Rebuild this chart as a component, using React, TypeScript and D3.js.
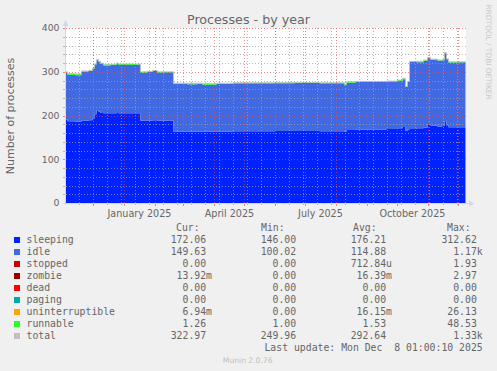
import React from 'react';
import * as d3 from 'd3';

const dates = [
  '2024-11-03','2024-11-05','2024-11-13','2024-11-19','2024-11-26','2024-11-30','2024-12-02','2024-12-04',
  '2024-12-06','2024-12-08','2024-12-11','2024-12-18','2024-12-24','2024-12-26','2025-01-05','2025-01-12',
  '2025-01-17','2025-01-24','2025-01-29','2025-02-03','2025-02-10','2025-02-19','2025-03-05','2025-03-15',
  '2025-03-20','2025-04-03','2025-04-20','2025-05-10','2025-06-01','2025-06-20','2025-07-15','2025-08-09',
  '2025-08-11','2025-08-20','2025-09-05','2025-09-20','2025-10-01','2025-10-06','2025-10-09','2025-10-11',
  '2025-10-13','2025-10-20','2025-10-27','2025-10-31','2025-11-03','2025-11-10','2025-11-15','2025-11-17',
  '2025-11-19','2025-11-21','2025-12-01','2025-12-08'
];
const sleeping = [
  191,187,186,188,189,193,203,212, 209,206,205,205,206,205,205,205,
  188,188,189,188,188,163,163,163, 163,163,164,164,164.5,164.5,164,163,
  167,168,168,169,171,174,165,168, 169,171,172,180,177,175,176,187,
  178,173,173,172
];
const idle = [
  107.5,106,106,112.5,112.7,113.7,113.7,114.5, 113.5,112.5,109.5,110.5,112,110.5,110.5,111.5,
  110,111.5,112.5,110.5,110.7,109.5,108.5,109.7, 107.5,109.7,109.7,109.7,109,109.7,109.7,106,
  108,108.5,108.5,108.5,108,109,100.5,108.7, 153.5,151,153,151.5,150.5,150.5,150.5,155.5,
  150.5,148,148.5,149.7
];
const stopped = [
  0,0,0,0,0,0,0,0, 0,0,0,0,0,0,0,0, 0,0,0,0,0,0,0,0, 0,0,0,0,0,0,0,0,
  0,0,0,0,0,0,0,0, 0,0,0,0,0,0,0,0, 0,0,0,0
];
const zombie = [
  0,0,0,0,0,0,0,0, 0,0,0,0,0,0,0,0, 0,0,0,0,0,0,0,0, 0,0,0,0,0,0,0,0,
  0,0,0,0,0,0,0,0, 0,0,0,0,0,0,0,0, 0,0,0,0.01
];
const dead = [
  0,0,0,0,0,0,0,0, 0,0,0,0,0,0,0,0, 0,0,0,0,0,0,0,0, 0,0,0,0,0,0,0,0,
  0,0,0,0,0,0,0,0, 0,0,0,0,0,0,0,0, 0,0,0,0
];
const paging = [
  0,0,0,0,0,0,0,0, 0,0,0,0,0,0,0,0, 0,0,0,0,0,0,0,0, 0,0,0,0,0,0,0,0,
  0,0,0,0,0,0,0,0, 0,0,0,0,0,0,0,0, 0,0,0,0
];
const uninterruptible = [
  0,0,0,0,0,0,0,0, 0,0,0,0,0,0,0,0, 0,0,0,0,0,0,0,0, 0,0,0,0,0,0,0,0,
  0,0,0,0,0,0,0,0, 0,0,0,0,0,0,0,0, 0,0,0,0.01
];
const runnable = [
  1.5,3,3,1.5,1.3,1.3,1.3,1.5, 1.5,1.5,2.5,1.5,2,2.5,2.5,1.5,
  2,1.5,1.5,1.5,1.3,1.5,2.5,1.3, 2.5,1.3,1.3,1.3,2,1.3,1.3,3,
  2,1.5,1.5,1.5,2,2,1.3,1.3, 1.5,2,2,1.5,1.5,1.5,1.5,1.5,
  1.5,2,1.5,1.3
];
const total = [
  300,296,295,302,303,308,318,328, 324,320,317,317,320,318,318,318,
  300,301,303,300,300,274,274,274, 273,274,275,275,275.5,275.5,275,272,
  277,278,278,279,281,285,266.8,278, 324,324,327,333,329,327,328,344,
  330,323,323,323
];

const seriesKeys = ['sleeping','idle','stopped','zombie','dead','paging','uninterruptible','runnable'];
const seriesColors = ['#0022ff','#4169e1','#cc0000','#990000','#ff0000','#00aaaa','#ffa500','#22ff22'];
const legendNames = ['sleeping','idle','stopped','zombie','dead','paging','uninterruptible','runnable','total'];
const legendColors = ['#0022ff','#4169e1','#cc0000','#990000','#ff0000','#00aaaa','#ffa500','#22ff22','#c0c0c0'];
const curVals = ['172.06','149.63','0.00','13.92m','0.00','0.00','6.94m','1.26','322.97'];
const minVals = ['146.00','100.02','0.00','0.00','0.00','0.00','0.00','1.00','249.96'];
const avgVals = ['176.21','114.88','712.84u','16.39m','0.00','0.00','16.15m','1.53','292.64'];
const maxVals = ['312.62','1.17k','1.93','2.97','0.00','0.00','26.13','48.53','1.33k'];
const yTicks = [0, 100, 200, 300, 400];
const yMinorTicks = [20,40,60,80,120,140,160,180,220,240,260,280,320,340,360,380];
const labelMonths = [0, 3, 6, 9];

const W = 497, H = 371;
const L = 66, R = 466, T = 28, B = 203;
const FONT = 'DejaVu Sans, sans-serif';
const MONO = 'DejaVu Sans Mono, monospace';
const TXT = '#666666';

export default function App() {
  const parse = d3.timeParse('%Y-%m-%d');
  const start = new Date(2024, 10, 3, 1);
  const end = new Date(2025, 11, 8, 1);
  const x = d3.scaleTime().domain([start, end]).range([L - 0.5, R - 0.5]);
  const y = d3.scaleLinear().domain([0, 400]).range([B, T]);

  const rows: any[] = dates.map((d, i) => ({
    date: parse(d), sleeping: sleeping[i], idle: idle[i], stopped: stopped[i], zombie: zombie[i],
    dead: dead[i], paging: paging[i], uninterruptible: uninterruptible[i], runnable: runnable[i], total: total[i],
  }));
  rows.push({ ...rows[rows.length - 1], date: end });

  const stacked = d3.stack<any>().keys(seriesKeys)(rows);
  const area = d3.area<any>()
    .x((d) => x(d.data.date))
    .y0((d) => y(d[0]))
    .y1((d) => y(d[1]))
    .curve(d3.curveStepAfter);
  const line = d3.line<any>()
    .x((d) => x(d.date))
    .y((d) => y(d.total))
    .curve(d3.curveStepAfter);

  const months = d3.timeMonth.range(start, end);
  const ref = new Date(2024, 10, 17);
  const sundays = d3.timeSunday.range(start, end).filter(
    (d) => Math.round((+d - +ref) / (7 * 864e5)) % 2 === 0
  );
  const labels = months.filter((m) => labelMonths.includes(m.getMonth())).map((m) => ({
    date: new Date(m.getFullYear(), m.getMonth(), 16),
    text: d3.timeFormat('%B %Y')(m),
  }));

  const gridGrey = 'rgba(160,160,160,0.75)';
  const gridRed = 'rgba(222,79,79,0.65)';
  const dash = '1,2';
  const cw = 5.9;
  const colEnds = [212, 302, 392, 482.7];
  const cols = [curVals, minVals, avgVals, maxVals];
  const headers = [['Cur:', 176], ['Min:', 261], ['Avg:', 353], ['Max:', 447]];
  const rowY = (i: number) => 242.5 + 12 * i;

  return (
    <svg width={W} height={H} style={{ position: 'absolute', left: 0, top: 0 }}>
      <rect x={0} y={0} width={W} height={H} fill="#f0f0f0" />
      <rect x={L} y={T} width={R - L} height={B - T} fill="#ffffff" />
      <defs>
        <clipPath id="plot"><rect x={L} y={T - 2} width={R - L} height={B - T + 2} /></clipPath>
      </defs>
      <g clipPath="url(#plot)">
        {stacked.map((s, i) => (
          <path key={s.key} d={area(s) || ''} fill={seriesColors[i]} />
        ))}
        <path d={line(rows) || ''} fill="none" stroke="#c0c0c0" strokeWidth={0.8} />
      </g>
      {/* grid */}
      <g shapeRendering="crispEdges">
        {yMinorTicks.map((v) => (
          <g key={'ym' + v}>
            <line x1={L} x2={R} y1={Math.round(y(v)) + 0.5} y2={Math.round(y(v)) + 0.5} stroke={gridGrey} strokeDasharray={dash} />
            <line x1={L - 3} x2={L} y1={Math.round(y(v)) + 0.5} y2={Math.round(y(v)) + 0.5} stroke={gridGrey} />
          </g>
        ))}
        {sundays.map((d, i) => (
          <g key={'xm' + i}>
            <line x1={Math.round(x(d)) + 0.5} x2={Math.round(x(d)) + 0.5} y1={T} y2={B} stroke={gridGrey} strokeDasharray={dash} />
            <line x1={Math.round(x(d)) + 0.5} x2={Math.round(x(d)) + 0.5} y1={B} y2={B + 2} stroke={gridGrey} />
          </g>
        ))}
        {months.map((d, i) => (
          <g key={'xM' + i}>
            <line x1={Math.round(x(d)) + 0.5} x2={Math.round(x(d)) + 0.5} y1={T} y2={B} stroke={gridRed} strokeDasharray={dash} />
            <line x1={Math.round(x(d)) + 0.5} x2={Math.round(x(d)) + 0.5} y1={B} y2={B + 3} stroke={gridRed} />
          </g>
        ))}
        {yTicks.map((v) => (
          <g key={'yM' + v}>
            <line x1={L} x2={R} y1={Math.round(y(v)) + 0.5} y2={Math.round(y(v)) + 0.5} stroke={gridRed} strokeDasharray={dash} />
            <line x1={L - 3} x2={L} y1={Math.round(y(v)) + 0.5} y2={Math.round(y(v)) + 0.5} stroke={gridRed} />
          </g>
        ))}
        {/* axes */}
        <line x1={L - 0.5} x2={L - 0.5} y1={B + 2} y2={T - 5} stroke="#cfd6f8" />
        <line x1={L - 3} x2={R + 4} y1={B + 0.5} y2={B + 0.5} stroke="#cfd6f8" />
      </g>
      <path d={`M${L - 0.5},${T - 8} L${L - 3.5},${T - 2} L${L + 2.5},${T - 2} Z`} fill="#cfd6f8" />
      <path d={`M${R + 8},${B + 0.5} L${R + 3},${B - 2.5} L${R + 3},${B + 3.5} Z`} fill="#cfd6f8" />

      {/* y labels */}
      {yTicks.map((v) => (
        <text key={'yl' + v} x={59.5} y={y(v) + 3.4} textAnchor="end" fontFamily={FONT} fontSize={9.3} fill={TXT}>{v}</text>
      ))}
      {labels.map((l, i) => (
        <text key={'xl' + i} x={x(l.date)} y={216.5} textAnchor="middle" fontFamily={FONT} fontSize={9.6} fill={TXT}>{l.text}</text>
      ))}
      <text x={248.5} y={23.5} textAnchor="middle" fontFamily={FONT} fontSize={12.7} fill={TXT}>Processes - by year</text>
      <text transform="translate(14,116) rotate(-90)" textAnchor="middle" fontFamily={FONT} fontSize={11} fill={TXT}>Number of processes</text>
      <text transform="translate(486,52) rotate(90)" textAnchor="middle" fontFamily={FONT} fontSize={7.4} fill="#c8c8c8">RRDTOOL / TOBI OETIKER</text>

      {/* legend */}
      {headers.map(([h, hx]) => (
        <text key={h as string} x={hx as number} y={230.5} fontFamily={MONO} fontSize={9.8} fill={TXT}>{h}</text>
      ))}
      {legendNames.map((n, i) => (
        <g key={n}>
          <rect x={14} y={rowY(i) - 5.5} width={6} height={6} fill={legendColors[i]} />
          <text x={26.5} y={rowY(i)} fontFamily={MONO} fontSize={9.8} fill={TXT}>{n}</text>
          {cols.map((c, j) => {
            const v = c[i];
            const hasUnit = /[a-z]$/i.test(v);
            return (
              <text key={j} x={hasUnit ? colEnds[j] : colEnds[j] - cw} y={rowY(i)} textAnchor="end" fontFamily={MONO} fontSize={9.8} fill={TXT}>{v}</text>
            );
          })}
        </g>
      ))}
      <text x={482.7} y={rowY(9)} textAnchor="end" fontFamily={MONO} fontSize={9.8} fill={TXT} style={{ whiteSpace: 'pre' }}>{'Last update: Mon Dec  8 01:00:10 2025'}</text>
      <text x={247.7} y={362.5} textAnchor="middle" fontFamily={FONT} fontSize={7.6} fill="#c0c0c0">Munin 2.0.76</text>
    </svg>
  );
}
